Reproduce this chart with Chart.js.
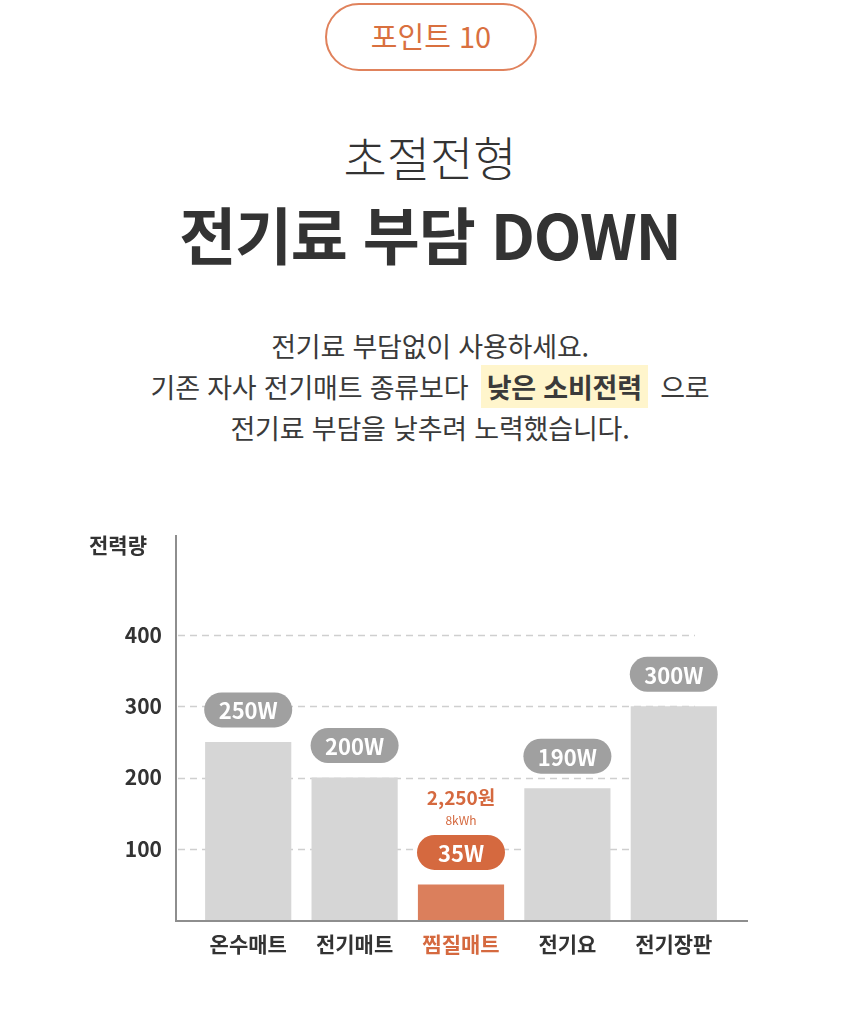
<!DOCTYPE html>
<html lang="ko">
<head>
<meta charset="utf-8">
<script src="https://cdn.jsdelivr.net/npm/chart.js@4.4.1/dist/chart.umd.min.js"></script>
<style>
    body { margin: 0; background: #fff; font-family: "Noto Sans CJK KR", "Noto Sans", sans-serif; color: #333; }
    .page { position: relative; width: 860px; height: 1033px; overflow: hidden; }
    .badge { position: absolute; left: 325px; top: 3px; width: 208px; height: 60px; padding-bottom: 4px; border: 2px solid #E0825C; border-radius: 34px;
             text-align: center; line-height: 60px; font-size: 29px; color: #D9703F; }
    .sub { position: absolute; left: 0; width: 860px; top: 124px; text-align: center; font-size: 47px; font-weight: 200; line-height: 64px; color: #333; }
    .title { position: absolute; left: 0; width: 860px; top: 191px; text-align: center; font-size: 62px; font-weight: 700; line-height: 84px; color: #333; letter-spacing: -1.2px; }
    .desc { position: absolute; left: 0; width: 860px; top: 325px; text-align: center; font-size: 27px; line-height: 41px; color: #3a3a3a; letter-spacing: -0.2px; }
    .desc b { background: #FFF5CC; padding: 2px 6px; margin: 0 5px; }
    #chartBox { position: absolute; left: 0; top: 500px; width: 860px; height: 500px; }
</style>
</head>
<body>
<div class="page">
    <div class="badge">포인트 10</div>
    <div class="sub">초절전형</div>
    <div class="title">전기료 부담 DOWN</div>
    <div class="desc">
        전기료 부담없이 사용하세요.<br>
        기존 자사 전기매트 종류보다 <b>낮은 소비전력</b> 으로<br>
        전기료 부담을 낮추려 노력했습니다.
    </div>
    <div id="chartBox"><canvas id="powerChart" width="860" height="500"></canvas></div>
</div>

<script>
'use strict';

// data
var categories = ['온수매트', '전기매트', '찜질매트', '전기요', '전기장판'];
var barValues = [250, 200, 50, 185, 300];
var barLabels = ['250W', '200W', '35W', '190W', '300W'];
var yTicks = [100, 200, 300, 400];
var axisTitle = '전력량';
var costLabel = '2,250원';
var energyLabel = '8kWh';

var highlight = 2,
    font = '"Noto Sans CJK KR", sans-serif',
    orange = '#DB7F5C',
    orangeDark = '#D5693F',
    gray = '#D6D6D6',
    bubbleGray = '#A0A0A0';

// rounded pill
function pill(ctx, cx, cy, w, h) {
    var r = h / 2;
    ctx.beginPath();
    ctx.moveTo(cx - w / 2 + r, cy - r);
    ctx.lineTo(cx + w / 2 - r, cy - r);
    ctx.arc(cx + w / 2 - r, cy, r, -Math.PI / 2, Math.PI / 2);
    ctx.lineTo(cx - w / 2 + r, cy + r);
    ctx.arc(cx - w / 2 + r, cy, r, Math.PI / 2, Math.PI * 1.5);
    ctx.closePath();
    ctx.fill();
}

var decor = {
    id: 'decor',
    beforeDatasetsDraw: function (chart) {
        var ctx = chart.ctx,
            y = chart.scales.y,
            area = chart.chartArea;
        ctx.save();
        // dashed grid lines
        ctx.strokeStyle = '#CFCFCF';
        ctx.lineWidth = 1.5;
        ctx.setLineDash([7, 5]);
        yTicks.forEach(function (t) {
            var py = Math.round(y.getPixelForValue(t)) + 0.5;
            ctx.beginPath();
            ctx.moveTo(area.left - 17, py);
            ctx.lineTo(area.right - 32, py);
            ctx.stroke();
        });
        ctx.restore();
    },
    afterDatasetsDraw: function (chart) {
        var ctx = chart.ctx,
            area = chart.chartArea,
            bars = chart.getDatasetMeta(0).data;
        ctx.save();

        // axis lines
        ctx.strokeStyle = '#8E8E8E';
        ctx.lineWidth = 2;
        ctx.beginPath();
        ctx.moveTo(area.left - 19, area.top - 100);
        ctx.lineTo(area.left - 19, area.bottom + 1);
        ctx.lineTo(area.right + 21, area.bottom + 1);
        ctx.stroke();

        // axis title
        ctx.fillStyle = '#333';
        ctx.font = 'bold 21px ' + font;
        ctx.textAlign = 'center';
        ctx.textBaseline = 'middle';
        ctx.fillText(axisTitle, area.left - 77, area.top - 90);

        // value bubbles
        bars.forEach(function (bar, i) {
            var cy = bar.y - 32;
            ctx.fillStyle = i === highlight ? orangeDark : bubbleGray;
            pill(ctx, bar.x, cy, 88, 35);
            ctx.fillStyle = '#fff';
            ctx.font = 'bold 22px ' + font;
            ctx.fillText(barLabels[i], bar.x, cy + 1);
        });

        // cost note over the highlighted bar
        var hb = bars[highlight];
        ctx.fillStyle = orangeDark;
        ctx.font = 'bold 19px ' + font;
        ctx.fillText(costLabel, hb.x, hb.y - 87);
        ctx.font = '12px ' + font;
        ctx.fillText(energyLabel, hb.x, hb.y - 64);
        ctx.restore();
    }
};

var ctx = document.getElementById('powerChart').getContext('2d');
var powerChart = new Chart(ctx, {
    type: 'bar',
    data: {
        labels: categories,
        datasets: [{
            data: barValues,
            backgroundColor: barValues.map(function (v, i) { return i === highlight ? orange : gray; }),
            borderWidth: 0,
            categoryPercentage: 1,
            barPercentage: 0.81
        }]
    },
    options: {
        responsive: false,
        animation: false,
        layout: { padding: { left: 95, right: 133, top: 135, bottom: 20 } },
        plugins: { legend: { display: false }, tooltip: { enabled: false } },
        scales: {
            x: {
                grid: { display: false, drawTicks: false },
                border: { display: false },
                afterFit: function (s) { s.height = 60; },
                ticks: {
                    padding: 11,
                    color: function (c) { return c.index === highlight ? orangeDark : '#333'; },
                    font: { family: font, size: 21, weight: 'bold' }
                }
            },
            y: {
                min: 0,
                max: 400,
                afterBuildTicks: function (s) { s.ticks = yTicks.map(function (v) { return { value: v }; }); },
                afterFit: function (s) { s.width = 100; },
                grid: { display: false, drawTicks: false },
                border: { display: false },
                ticks: {
                    padding: 33,
                    color: '#333',
                    font: { family: font, size: 21, weight: 'bold' }
                }
            }
        }
    },
    plugins: [decor]
});
</script>
</body>
</html>
